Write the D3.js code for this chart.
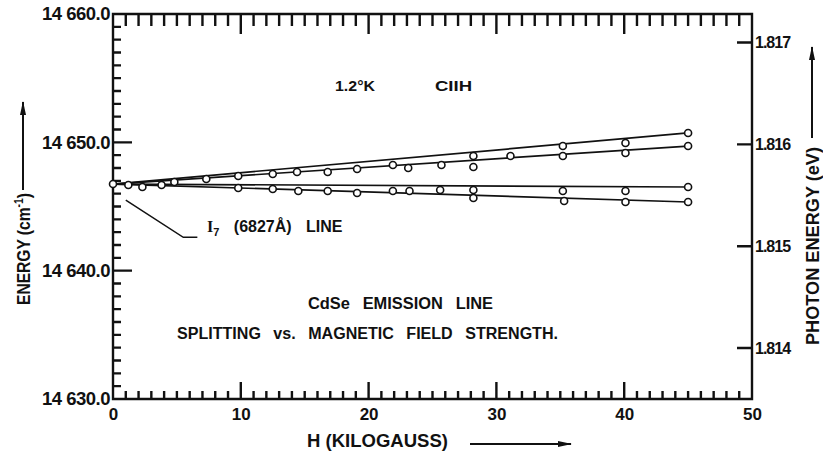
<!DOCTYPE html>
<html>
<head>
<meta charset="utf-8">
<script src="https://cdn.jsdelivr.net/npm/d3@7"></script>
<style>
  body { margin: 0; background: #fff; }
  text { font-family: "Liberation Sans", Arial, sans-serif; font-weight: bold; fill: #111; }
</style>
</head>
<body>
<div class="chart"></div>
<script>
// measured points, upper (rising) branches
var hUpper = [1.2, 2.3, 3.8, 4.8, 7.3, 9.8, 12.5, 14.4, 16.8, 19.1, 21.9, 23.1, 25.7, 28.2, 28.2, 31.1, 35.2, 35.2, 40.1, 40.1, 45, 45];
var eUpper = [14646.67, 14646.52, 14646.67, 14646.91, 14647.14, 14647.38, 14647.53, 14647.69, 14647.69, 14647.92, 14648.23, 14648.0, 14648.23, 14648.93, 14648.08, 14648.93, 14649.71, 14648.93, 14649.95, 14649.17, 14650.73, 14649.71];
// measured points, lower branches
var hLower = [9.8, 12.5, 14.5, 16.8, 19.1, 21.9, 23.2, 25.6, 28.2, 28.2, 35.2, 35.3, 40.1, 40.1, 45, 45];
var eLower = [14646.44, 14646.36, 14646.21, 14646.21, 14646.05, 14646.21, 14646.21, 14646.29, 14646.29, 14645.66, 14646.21, 14645.43, 14646.21, 14645.35, 14646.52, 14645.35];
// zero field point
var hZero = [0];
var eZero = [14646.75];

// straight fitted lines, start and end
var fitH = [0, 45];
var fitA = [14646.75, 14650.73];
var fitB = [14646.75, 14649.71];
var fitC = [14646.75, 14646.52];
var fitD = [14646.75, 14645.35];

var xTicks = [0, 10, 20, 30, 40, 50];
var yTicks = [14630, 14640, 14650, 14660];
var evTicks = [1.814, 1.815, 1.816, 1.817];

var width = 823, height = 458;

var svg = d3.select(".chart").append("svg")
    .attr("width", width)
    .attr("height", height);

var x = d3.scaleLinear().domain([0, 50]).range([113, 752]);
var y = d3.scaleLinear().domain([14630, 14660]).range([399, 14]);
var yEv = d3.scaleLinear().domain([1.8135, 1.81728]).range([399, 14]);

function fmtE(d) {
  var s = d.toFixed(1);
  return s.slice(0, 2) + " " + s.slice(2);
}

// frame and inward ticks in one path, tick positions from the scales
var xMinor = d3.range(1, 50).filter(function(d) { return d % 10 !== 0; });
var xMajor = [10, 20, 30, 40];
var yMinor = d3.range(14631, 14660).filter(function(d) { return d % 10 !== 0; });
var yMajor = [14640, 14650];

var frame = d3.path();
frame.rect(x(0), y(14660), x(50) - x(0), y(14630) - y(14660));
xMinor.forEach(function(v) {
  frame.moveTo(x(v), 399); frame.lineTo(x(v), 391);
  frame.moveTo(x(v), 14); frame.lineTo(x(v), 26);
});
xMajor.forEach(function(v) {
  frame.moveTo(x(v), 399); frame.lineTo(x(v), 382);
  frame.moveTo(x(v), 14); frame.lineTo(x(v), 34);
});
yMinor.forEach(function(v) {
  frame.moveTo(113, y(v)); frame.lineTo(121, y(v));
});
yMajor.forEach(function(v) {
  frame.moveTo(113, y(v)); frame.lineTo(132, y(v));
});
evTicks.forEach(function(v) {
  frame.moveTo(752, yEv(v)); frame.lineTo(737, yEv(v));
});
svg.append("path")
  .attr("d", frame.toString())
  .attr("fill", "none").attr("stroke", "#111").attr("stroke-width", 2.4);

// tick labels via axes
var gx = svg.append("g").attr("transform", "translate(0,399)")
  .call(d3.axisBottom(x).tickValues(xTicks).tickSize(0).tickPadding(9).tickFormat(d3.format("d")));
gx.select(".domain").remove();
gx.selectAll(".tick text").attr("font-size", 17).attr("font-family", null).attr("fill", null);

var gy = svg.append("g").attr("transform", "translate(113,0)")
  .call(d3.axisLeft(y).tickValues(yTicks).tickSize(0).tickPadding(3).tickFormat(fmtE));
gy.select(".domain").remove();
gy.selectAll(".tick text").attr("font-size", 18.5).attr("letter-spacing", -0.5)
  .attr("font-family", null).attr("fill", null);

var gr = svg.append("g").attr("transform", "translate(752,0)")
  .call(d3.axisRight(yEv).tickValues(evTicks).tickSize(0).tickPadding(3).tickFormat(d3.format(".3f")));
gr.select(".domain").remove();
gr.selectAll(".tick text").attr("font-size", 16).attr("letter-spacing", -1)
  .attr("font-family", null).attr("fill", null);

// fitted lines
var line = d3.line()
  .x(function(d) { return x(d[0]); })
  .y(function(d) { return y(d[1]); });

[fitA, fitB, fitC, fitD].forEach(function(f) {
  svg.append("path")
    .attr("d", line(d3.zip(fitH, f)))
    .attr("fill", "none").attr("stroke", "#111").attr("stroke-width", 1.7);
});

// points
var pts = d3.zip(hZero, eZero).concat(d3.zip(hUpper, eUpper)).concat(d3.zip(hLower, eLower));
svg.append("g").selectAll("circle")
  .data(pts)
  .enter().append("circle")
    .attr("cx", function(d) { return x(d[0]); })
    .attr("cy", function(d) { return y(d[1]); })
    .attr("r", 3.5)
    .attr("fill", "#fff")
    .attr("stroke", "#111")
    .attr("stroke-width", 1.6);

// arrow heads
svg.append("defs").append("marker")
  .attr("id", "head")
  .attr("viewBox", "0 0 14 6")
  .attr("refX", 13).attr("refY", 3)
  .attr("markerWidth", 14).attr("markerHeight", 6)
  .attr("markerUnits", "userSpaceOnUse")
  .attr("orient", "auto")
  .append("path").attr("d", "M0,0 L14,3 L0,6 Z").attr("fill", "#111");

function arrow(x1, y1, x2, y2) {
  svg.append("line")
    .attr("x1", x1).attr("y1", y1).attr("x2", x2).attr("y2", y2)
    .attr("stroke", "#111").attr("stroke-width", 2)
    .attr("marker-end", "url(#head)");
}

// y label (left)
var yl = svg.append("text")
  .attr("transform", "translate(30,249) rotate(-90)")
  .attr("text-anchor", "middle")
  .attr("font-size", 18)
  .attr("textLength", 112).attr("lengthAdjust", "spacingAndGlyphs");
yl.append("tspan").text("ENERGY  (cm");
yl.append("tspan").attr("font-size", 12).attr("dy", -7).text("-1");
yl.append("tspan").attr("dy", 7).text(")");
arrow(23, 190, 23, 102);

// y label (right)
svg.append("text")
  .attr("transform", "translate(819,246) rotate(-90)")
  .attr("text-anchor", "middle")
  .attr("font-size", 19)
  .attr("textLength", 198).attr("lengthAdjust", "spacingAndGlyphs")
  .text("PHOTON ENERGY (eV)");
arrow(812, 138, 812, 47);

// x label
svg.append("text")
  .attr("x", 307).attr("y", 447)
  .attr("font-size", 19)
  .attr("textLength", 141).attr("lengthAdjust", "spacingAndGlyphs")
  .text("H  (KILOGAUSS)");
arrow(470, 444, 571, 444);

// annotations
svg.append("text").attr("x", 335).attr("y", 91).attr("font-size", 15)
  .attr("textLength", 40).attr("lengthAdjust", "spacingAndGlyphs").text("1.2°K");
svg.append("text").attr("x", 435).attr("y", 91).attr("font-size", 15)
  .attr("textLength", 37).attr("lengthAdjust", "spacingAndGlyphs").text("CIIH");
svg.append("text").attr("x", 308).attr("y", 309).attr("font-size", 16)
  .attr("textLength", 185).attr("lengthAdjust", "spacingAndGlyphs").attr("word-spacing", 8)
  .text("CdSe EMISSION LINE");
svg.append("text").attr("x", 177).attr("y", 339).attr("font-size", 16)
  .attr("textLength", 381).attr("lengthAdjust", "spacingAndGlyphs").attr("word-spacing", 8)
  .text("SPLITTING vs. MAGNETIC FIELD STRENGTH.");

// I7 line label with leader
svg.append("path")
  .attr("d", "M" + x(1) + "," + y(14645.5) + "L" + x(5.5) + "," + y(14642.6) + "H" + x(6.6))
  .attr("fill", "none").attr("stroke", "#111").attr("stroke-width", 1.5);
var t7 = svg.append("text").attr("x", 207).attr("y", 232).attr("font-size", 16)
  .attr("word-spacing", 10);
t7.append("tspan").attr("font-family", "Liberation Serif, serif").text("I");
t7.append("tspan").attr("font-size", 11).attr("dy", 4).text("7");
t7.append("tspan").attr("dy", -4).text(" (6827Å) LINE");
</script>
</body>
</html>
